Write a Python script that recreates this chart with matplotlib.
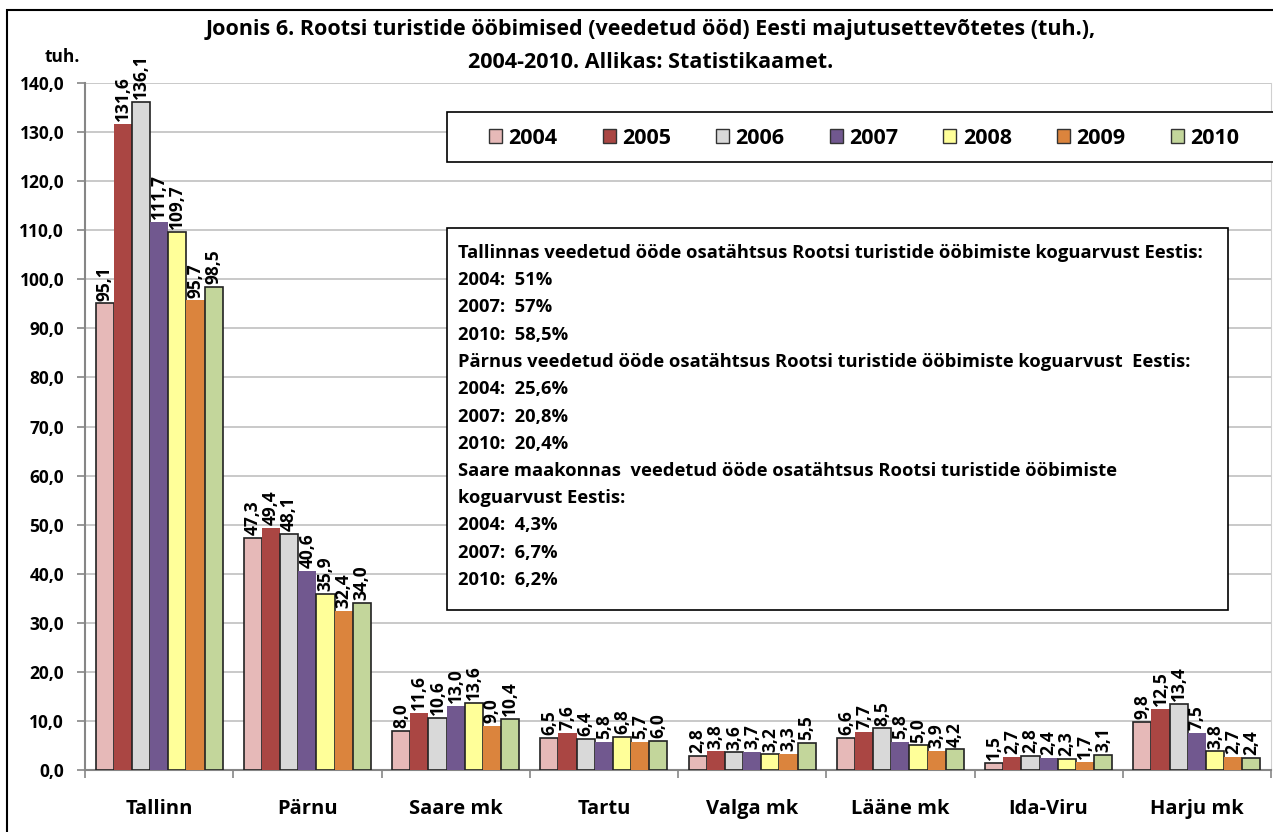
import matplotlib
matplotlib.use("Agg")
import matplotlib.pyplot as plt
import numpy as np
from matplotlib.patches import Rectangle, Patch

plt.rcParams['font.family'] = ['Open Sans', 'DejaVu Sans']
plt.rcParams['font.weight'] = 'bold'

categories = ["Tallinn", "Pärnu", "Saare mk", "Tartu", "Valga mk", "Lääne mk", "Ida-Viru", "Harju mk"]
years = ["2004", "2005", "2006", "2007", "2008", "2009", "2010"]
v2004 = [95.1, 47.3, 8.0, 6.5, 2.8, 6.6, 1.5, 9.8]
v2005 = [131.6, 49.4, 11.6, 7.6, 3.8, 7.7, 2.7, 12.5]
v2006 = [136.1, 48.1, 10.6, 6.4, 3.6, 8.5, 2.8, 13.4]
v2007 = [111.7, 40.6, 13.0, 5.8, 3.7, 5.8, 2.4, 7.5]
v2008 = [109.7, 35.9, 13.6, 6.8, 3.2, 5.0, 2.3, 3.8]
v2009 = [95.7, 32.4, 9.0, 5.7, 3.3, 3.9, 1.7, 2.7]
v2010 = [98.5, 34.0, 10.4, 6.0, 5.5, 4.2, 3.1, 2.4]
series = [v2004, v2005, v2006, v2007, v2008, v2009, v2010]
colors = ["#E6B9B8", "#AA4643", "#D9D9D9", "#71588F", "#FFFF99", "#DB843D", "#C3D69B"]
outlined = [True, False, True, False, True, False, True]

title_lines = ["Joonis 6. Rootsi turistide ööbimised (veedetud ööd) Eesti majutusettevõtetes (tuh.),",
               "2004-2010. Allikas: Statistikaamet."]
note_lines = [
    "Tallinnas veedetud ööde osatähtsus Rootsi turistide ööbimiste koguarvust Eestis:",
    "2004:  51%",
    "2007:  57%",
    "2010:  58,5%",
    "Pärnus veedetud ööde osatähtsus Rootsi turistide ööbimiste koguarvust  Eestis:",
    "2004:  25,6%",
    "2007:  20,8%",
    "2010:  20,4%",
    "Saare maakonnas  veedetud ööde osatähtsus Rootsi turistide ööbimiste",
    "koguarvust Eestis:",
    "2004:  4,3%",
    "2007:  6,7%",
    "2010:  6,2%",
]

W, H = 1273, 832
fig = plt.figure(figsize=(W / 100, H / 100), dpi=100)

# outer chart border
fig.add_artist(Rectangle((7 / W, -0.1), 1.2, 1 - 10 / H + 0.1, transform=fig.transFigure,
                         fill=False, edgecolor="black", linewidth=1.5))

ax = fig.add_axes([85 / W, 1 - 770 / H, (1271 - 85) / W, (770 - 83) / H])

n = len(categories)
x = np.arange(n)
group = 0.857
bw = group / len(years)
for i, (vals, c, o) in enumerate(zip(series, colors, outlined)):
    pos = x - group / 2 + bw * (i + 0.5)
    ax.bar(pos, vals, width=bw, color=c, edgecolor="#222222" if o else c,
           linewidth=1.2 if o else 0, zorder=3)
    for px, v in zip(pos, vals):
        ax.annotate(f"{v:.1f}".replace(".", ","), (px, v), xytext=(0, 2),
                    textcoords="offset points", rotation=90, ha="center", va="bottom",
                    fontsize=12.5, fontweight="bold", annotation_clip=False, zorder=5)

ax.set_xlim(-0.5, n - 0.5)
ax.set_ylim(0, 140)
ax.set_yticks(np.arange(0, 141, 10))
ax.set_yticklabels([f"{t:.1f}".replace(".", ",") for t in np.arange(0, 141, 10)],
                   fontsize=12.5, fontweight="bold")
ax.yaxis.grid(True, color="#C0C0C0", linewidth=1.2, zorder=0)
ax.set_axisbelow(True)

ax.set_xticks(np.arange(-0.5, n, 1.0))
ax.set_xticklabels([])
ax.set_xticks(x, minor=True)
ax.set_xticklabels(categories, minor=True, fontsize=14.5, fontweight="bold")
ax.tick_params(axis="x", which="minor", length=0, pad=21)
ax.tick_params(axis="x", which="major", length=6, color="#868686", width=1.2)
ax.tick_params(axis="y", length=6, color="#868686", width=1.2, pad=9)

for s in ["left", "bottom"]:
    ax.spines[s].set_color("#868686")
    ax.spines[s].set_linewidth(1.5)
ax.spines["top"].set_visible(False)
ax.spines["right"].set_color("#D0D0D0")

for k, (line, yy) in enumerate(zip(title_lines, [30, 62])):
    fig.text(651 / W, 1 - yy / H, line, ha="center", va="center", fontsize=15.5,
             fontweight="bold")
fig.text(62 / W, 1 - 57 / H, "tuh.", ha="center", va="center", fontsize=12.5, fontweight="bold")

# legend frame + legend
fig.add_artist(Rectangle((447 / W, 1 - 162 / H), (1300 - 447) / W, 50 / H,
                         transform=fig.transFigure, facecolor="white", edgecolor="black",
                         linewidth=1.2, zorder=6))
handles = [Patch(facecolor=c, edgecolor="#333333", linewidth=1.0) for c in colors]
leg = fig.legend(handles, years, loc="center left",
                 bbox_to_anchor=(489 / W, 1 - 138 / H),
                 ncol=7, frameon=False, borderpad=0, borderaxespad=0,
                 handlelength=0.6, handleheight=0.6, handletextpad=0.3,
                 columnspacing=2.1, prop={"size": 15.5, "weight": "bold"})
leg.set_zorder(7)

# note box
fig.add_artist(Rectangle((447 / W, 1 - 610 / H), (1228 - 447) / W, (610 - 228) / H,
                         transform=fig.transFigure, facecolor="white", edgecolor="black",
                         linewidth=1.2, zorder=6))
for k, line in enumerate(note_lines):
    fig.text(458 / W, 1 - (253 + 27.25 * k) / H, line, ha="left", va="center",
             fontsize=13.2, fontweight="bold", zorder=7)

fig.savefig("out.png", dpi=100)
